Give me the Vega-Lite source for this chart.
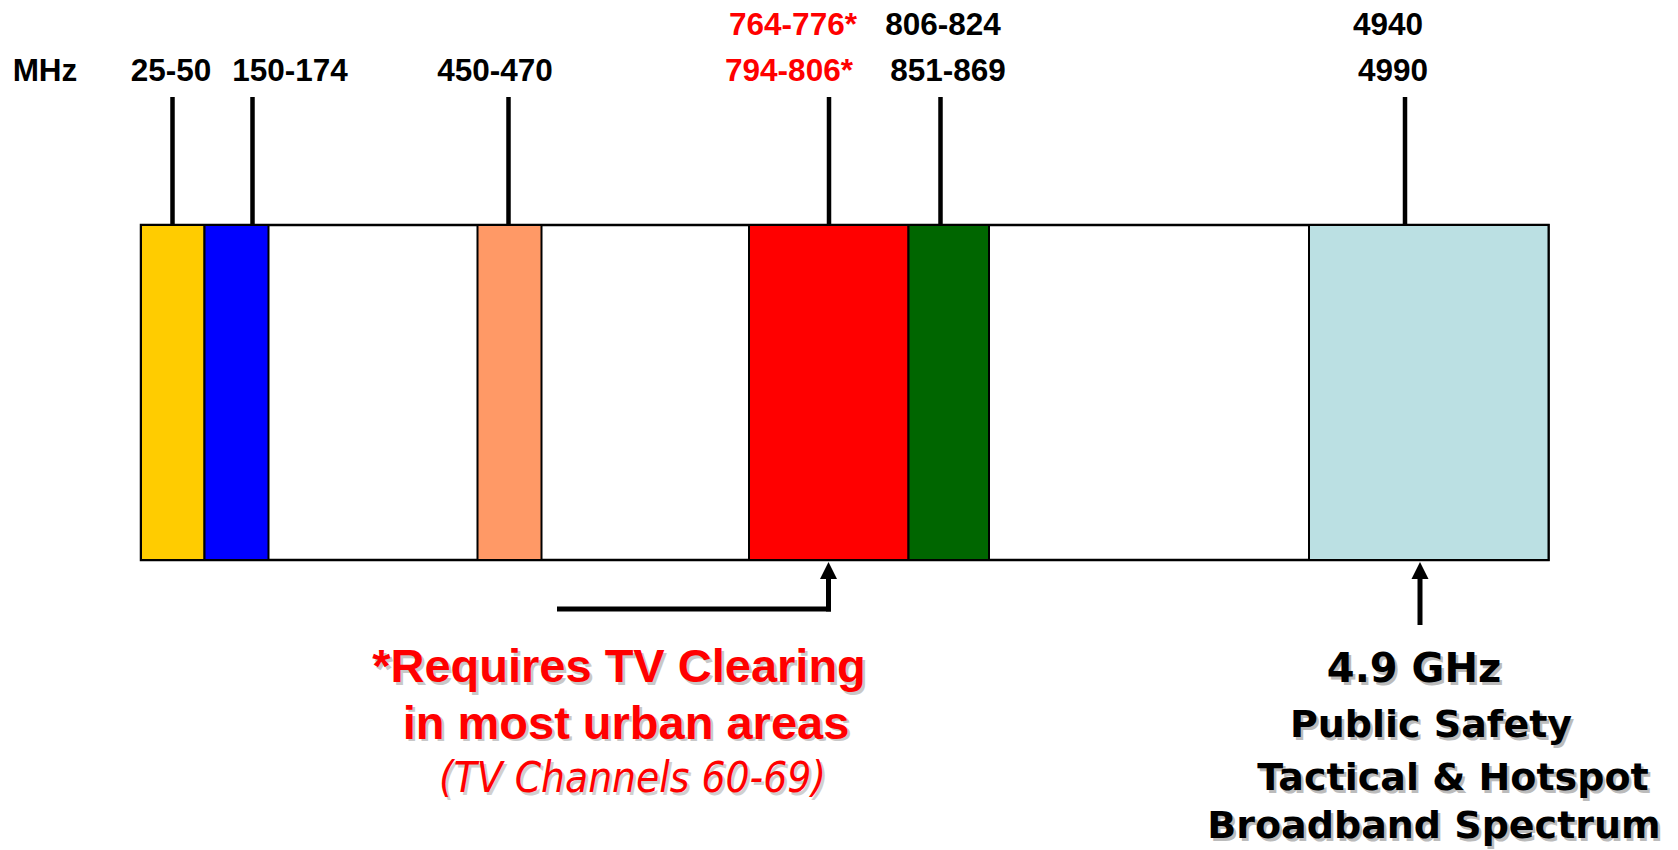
{
  "$schema": "https://vega.github.io/schema/vega-lite/v6.json",
  "width": 1678,
  "height": 850,
  "autosize": {"type": "none"},
  "padding": 0,
  "background": "white",
  "config": {"view": {"stroke": null}, "axis": {"disable": true}},
  "datasets": {
    "frame": [{"x0": 141, "x1": 1548.5, "y0": 225, "y1": 560}],
    "bands": [
      {"band": "25-50", "x0": 141, "x1": 204.5, "y0": 225, "y1": 560},
      {"band": "150-174", "x0": 204.5, "x1": 268.5, "y0": 225, "y1": 560},
      {"band": "450-470", "x0": 477.5, "x1": 541.5, "y0": 225, "y1": 560},
      {"band": "700", "x0": 749, "x1": 908.5, "y0": 225, "y1": 560},
      {"band": "800", "x0": 908.5, "x1": 989, "y0": 225, "y1": 560},
      {"band": "4900", "x0": 1309, "x1": 1548.5, "y0": 225, "y1": 560}
    ],
    "ticks": [
      {"band": "25-50", "x": 172.5, "y0": 97, "y1": 225},
      {"band": "150-174", "x": 252.5, "y0": 97, "y1": 225},
      {"band": "450-470", "x": 508.5, "y0": 97, "y1": 225},
      {"band": "700", "x": 829, "y0": 97, "y1": 225},
      {"band": "800", "x": 940.5, "y0": 97, "y1": 225},
      {"band": "4900", "x": 1405, "y0": 97, "y1": 225}
    ],
    "shafts": [
      {"part": "tv-h", "x0": 557, "x1": 831, "y0": 609, "y1": 609},
      {"part": "tv-v", "x0": 828.5, "x1": 828.5, "y0": 577, "y1": 611.5},
      {"part": "ps-v", "x0": 1420, "x1": 1420, "y0": 576, "y1": 625}
    ],
    "heads": [
      {"part": "tv", "x": 828.5, "y": 570.5},
      {"part": "ps", "x": 1420, "y": 570.5}
    ],
    "labels": [
      {"text": "MHz", "x": 45, "y": 81, "clearing": "no"},
      {"text": "25-50", "x": 171, "y": 81, "clearing": "no"},
      {"text": "150-174", "x": 290, "y": 81, "clearing": "no"},
      {"text": "450-470", "x": 495, "y": 81, "clearing": "no"},
      {"text": "764-776*", "x": 793, "y": 34.5, "clearing": "yes"},
      {"text": "794-806*", "x": 789, "y": 81, "clearing": "yes"},
      {"text": "806-824", "x": 943, "y": 34.5, "clearing": "no"},
      {"text": "851-869", "x": 948, "y": 81, "clearing": "no"},
      {"text": "4940", "x": 1388, "y": 34.5, "clearing": "no"},
      {"text": "4990", "x": 1393, "y": 81, "clearing": "no"}
    ],
    "tvBold": [
      {"text": "*Requires TV Clearing", "x": 619, "y": 682},
      {"text": "in most urban areas", "x": 626, "y": 738.5}
    ],
    "tvItalic": [
      {"text": "(TV Channels 60-69)", "x": 632.5, "y": 792}
    ],
    "psHead": [
      {"text": "4.9 GHz", "x": 1414, "y": 682}
    ],
    "psBody": [
      {"text": "Public Safety", "x": 1431, "y": 737},
      {"text": "Tactical & Hotspot", "x": 1453, "y": 790},
      {"text": "Broadband Spectrum", "x": 1434, "y": 838}
    ]
  },
  "layer": [
    {
      "data": {"name": "frame"},
      "mark": {"type": "rect", "fill": "white", "stroke": "black", "strokeWidth": 2.5},
      "encoding": {
        "x": {"field": "x0", "type": "quantitative", "scale": {"domain": [0, 1678], "nice": false, "zero": false}},
        "x2": {"field": "x1"},
        "y": {"field": "y0", "type": "quantitative", "scale": {"domain": [0, 850], "nice": false, "zero": false, "reverse": true}},
        "y2": {"field": "y1"}
      }
    },
    {
      "data": {"name": "bands"},
      "mark": {"type": "rect", "stroke": "black", "strokeWidth": 2, "opacity": 1},
      "encoding": {
        "x": {"field": "x0", "type": "quantitative"},
        "x2": {"field": "x1"},
        "y": {"field": "y0", "type": "quantitative"},
        "y2": {"field": "y1"},
        "fill": {"field": "band", "type": "nominal", "legend": null,
          "scale": {"domain": ["25-50", "150-174", "450-470", "700", "800", "4900"],
                    "range": ["#FFCC00", "#0000FF", "#FF9966", "#FF0000", "#006600", "#BBE0E3"]}}
      }
    },
    {
      "data": {"name": "ticks"},
      "mark": {"type": "rule", "color": "black", "strokeWidth": 4.5, "strokeCap": "butt"},
      "encoding": {
        "x": {"field": "x", "type": "quantitative"},
        "y": {"field": "y0", "type": "quantitative"},
        "y2": {"field": "y1"}
      }
    },
    {
      "data": {"name": "shafts"},
      "mark": {"type": "rule", "color": "black", "strokeWidth": 5, "strokeCap": "butt"},
      "encoding": {
        "x": {"field": "x0", "type": "quantitative"},
        "x2": {"field": "x1"},
        "y": {"field": "y0", "type": "quantitative"},
        "y2": {"field": "y1"}
      }
    },
    {
      "data": {"name": "heads"},
      "mark": {"type": "point", "filled": true, "color": "black", "opacity": 1, "shape": "M0,-1L1,1L-1,1Z", "size": 289, "strokeWidth": 0},
      "encoding": {
        "x": {"field": "x", "type": "quantitative"},
        "y": {"field": "y", "type": "quantitative"}
      }
    },
    {
      "data": {"name": "labels"},
      "mark": {"type": "text", "font": "Liberation Sans", "fontWeight": "bold", "fontSize": 31.5, "align": "center", "baseline": "alphabetic"},
      "encoding": {
        "x": {"field": "x", "type": "quantitative"},
        "y": {"field": "y", "type": "quantitative"},
        "text": {"field": "text"},
        "color": {"field": "clearing", "type": "nominal", "legend": null,
          "scale": {"domain": ["yes", "no"], "range": ["#FF0000", "#000000"]}}
      }
    },
    {
      "data": {"name": "tvBold"},
      "mark": {"type": "text", "font": "Liberation Sans", "fontWeight": "bold", "fontSize": 47, "align": "center", "baseline": "alphabetic", "color": "#c8c8c8", "dx": 2.5, "dy": 2.5},
      "encoding": {
        "x": {"field": "x", "type": "quantitative"},
        "y": {"field": "y", "type": "quantitative"},
        "text": {"field": "text"}
      }
    },
    {
      "data": {"name": "tvBold"},
      "mark": {"type": "text", "font": "Liberation Sans", "fontWeight": "bold", "fontSize": 47, "align": "center", "baseline": "alphabetic", "color": "#FF0000"},
      "encoding": {
        "x": {"field": "x", "type": "quantitative"},
        "y": {"field": "y", "type": "quantitative"},
        "text": {"field": "text"}
      }
    },
    {
      "data": {"name": "tvItalic"},
      "mark": {"type": "text", "font": "DejaVu Sans Condensed", "fontStyle": "italic", "fontSize": 42, "align": "center", "baseline": "alphabetic", "color": "#d0d0d0", "dx": 2.5, "dy": 2.5},
      "encoding": {
        "x": {"field": "x", "type": "quantitative"},
        "y": {"field": "y", "type": "quantitative"},
        "text": {"field": "text"}
      }
    },
    {
      "data": {"name": "tvItalic"},
      "mark": {"type": "text", "font": "DejaVu Sans Condensed", "fontStyle": "italic", "fontSize": 42, "align": "center", "baseline": "alphabetic", "color": "#FF0000"},
      "encoding": {
        "x": {"field": "x", "type": "quantitative"},
        "y": {"field": "y", "type": "quantitative"},
        "text": {"field": "text"}
      }
    },
    {
      "data": {"name": "psHead"},
      "mark": {"type": "text", "font": "DejaVu Sans", "fontWeight": "bold", "fontSize": 40, "align": "center", "baseline": "alphabetic", "color": "#bbbbbb", "dx": 2.5, "dy": 2.5},
      "encoding": {
        "x": {"field": "x", "type": "quantitative"},
        "y": {"field": "y", "type": "quantitative"},
        "text": {"field": "text"}
      }
    },
    {
      "data": {"name": "psHead"},
      "mark": {"type": "text", "font": "DejaVu Sans", "fontWeight": "bold", "fontSize": 40, "align": "center", "baseline": "alphabetic", "color": "#000000"},
      "encoding": {
        "x": {"field": "x", "type": "quantitative"},
        "y": {"field": "y", "type": "quantitative"},
        "text": {"field": "text"}
      }
    },
    {
      "data": {"name": "psBody"},
      "mark": {"type": "text", "font": "DejaVu Sans", "fontWeight": "bold", "fontSize": 38, "align": "center", "baseline": "alphabetic", "color": "#bbbbbb", "dx": 2.5, "dy": 2.5},
      "encoding": {
        "x": {"field": "x", "type": "quantitative"},
        "y": {"field": "y", "type": "quantitative"},
        "text": {"field": "text"}
      }
    },
    {
      "data": {"name": "psBody"},
      "mark": {"type": "text", "font": "DejaVu Sans", "fontWeight": "bold", "fontSize": 38, "align": "center", "baseline": "alphabetic", "color": "#000000"},
      "encoding": {
        "x": {"field": "x", "type": "quantitative"},
        "y": {"field": "y", "type": "quantitative"},
        "text": {"field": "text"}
      }
    }
  ]
}
